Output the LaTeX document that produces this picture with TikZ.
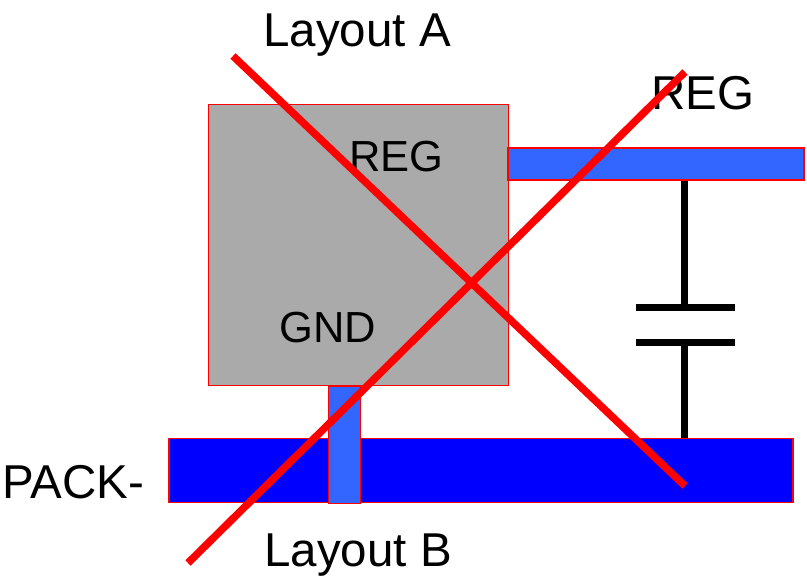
\documentclass[tikz,border=0pt]{standalone}
\usepackage{fontspec}
\setmainfont{Liberation Sans}
\usetikzlibrary{positioning,calc}
\definecolor{padblue}{RGB}{51,102,255}
\definecolor{chipgray}{RGB}{170,170,170}
\definecolor{packblue}{RGB}{0,0,255}
\begin{document}
\begin{tikzpicture}[x=1pt,y=-1pt,
    chip/.style={draw=red, fill=chipgray, line width=1.5pt, inner sep=0pt, minimum width=300pt, minimum height=281pt},
    trace/.style={draw=red, fill=padblue, line width=1.5pt, inner sep=0pt},
    label/.style={font=\fontsize{47.5}{52}\selectfont, inner sep=0pt, text=black},
    small/.style={font=\fontsize{43.5}{48}\selectfont, inner sep=0pt, text=black},
    wire/.style={line width=7pt, black},
    cross/.style={line width=7.5pt, red},
  ]
  \useasboundingbox (0,0) rectangle (807,577);
  % Die and rails
  \node[chip] (die) at (358.5,245) {};
  \node[trace, fill=packblue, minimum width=624pt, minimum height=64pt] (pack) at (481,470.5) {};
  \node[trace, minimum width=296pt, minimum height=32pt] (reg) at (656,164) {};
  \node[trace, minimum width=32pt, minimum height=117pt] (gnd) at (344.5,445) {};

  % Capacitor
  \coordinate (plusl) at (636,308);
  \coordinate (plusr) at (735,308);
  \coordinate (minl) at (636,343);
  \coordinate (minr) at (735,343);
  \coordinate (plusc) at (684.5,308);
  \coordinate (minc) at (684.5,343);
  \draw[wire] (reg.south -| plusc) -- (plusc);
  \draw[wire] (plusl) -- (plusr);
  \draw[wire] (minl) -- (minr);
  \draw[wire] (minc) -- (pack.north -| minc);

  % Labels
  \node[small] (reglbl) at (396.5,157) {REG};
  \node[small] (gndlbl) at (328,328) {GND};
  \node[label] (regout) at (703,93) {REG};
  \node[label] (packlbl) at (73.5,482) {PACK-};
  \node[label] (lay a) at (357,35) {Layout A};
  \node[label] (lay b) at (358,555) {Layout B};

  % Crosses
  \coordinate (a1) at (233,56);
  \coordinate (a2) at (685,486);
  \coordinate (b1) at (188,563);
  \coordinate (b2) at (685,72);
  \draw[cross] (a1) -- (a2);
  \draw[cross] (b1) -- (b2);
\end{tikzpicture}
\end{document}
